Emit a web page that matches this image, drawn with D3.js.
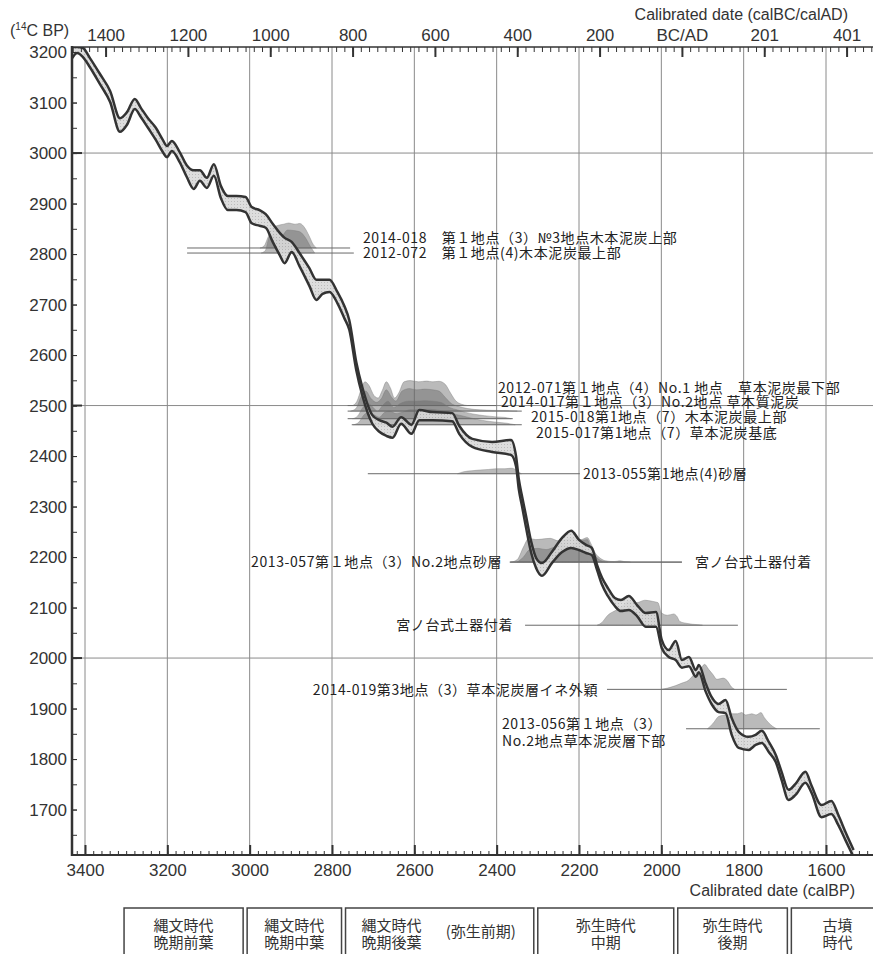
<!DOCTYPE html>
<html>
<head>
<meta charset="utf-8">
<script src="https://cdn.jsdelivr.net/npm/d3@7/dist/d3.min.js"></script>
<style>
body{margin:0;background:#fff}
</style>
</head>
<body>
<svg id="chart" width="873" height="954"></svg>
<script>
// calibration curve, 1 sigma band (calBP vs 14C BP)
var calBP = [3431,3419,3405,3388,3364,3339,3315,3298,3279,3264,3247,3228,3211,3201,3189,3170,3153,3136,3121,3104,3087,3070,3053,3032,3010,2995,2976,2961,2944,2927,2915,2898,2879,2855,2838,2823,2806,2787,2770,2758,2741,2726,2702,2685,2668,2653,2632,2607,2588,2556,2508,2491,2459,2411,2365,2353,2346,2338,2329,2316,2304,2290,2266,2241,2219,2200,2183,2169,2156,2144,2130,2113,2098,2079,2059,2038,2013,1999,1982,1965,1950,1933,1916,1909,1892,1878,1861,1844,1829,1812,1788,1771,1756,1739,1722,1708,1691,1674,1650,1635,1611,1587,1570,1553,1533]
var c14Upper = [3210,3210,3208,3188,3157,3123,3069,3081,3107,3089,3069,3050,3026,3014,3024,3002,2976,2966,2966,2951,2978,2935,2915,2915,2913,2893,2887,2879,2860,2842,2832,2824,2802,2772,2749,2749,2749,2725,2697,2669,2586,2535,2481,2471,2466,2458,2477,2462,2491,2487,2485,2460,2434,2428,2432,2400,2353,2319,2283,2230,2198,2188,2210,2238,2252,2234,2224,2218,2184,2159,2139,2119,2115,2123,2105,2089,2091,2036,2016,2034,1996,2002,1976,1986,1949,1923,1909,1917,1881,1854,1844,1848,1856,1834,1808,1775,1739,1751,1775,1747,1709,1717,1689,1656,1620]
var c14Lower = [3188,3198,3190,3170,3137,3101,3042,3056,3087,3071,3050,3026,3002,2992,3004,2982,2953,2929,2945,2931,2955,2911,2887,2887,2883,2861,2856,2852,2824,2798,2782,2804,2776,2737,2709,2721,2725,2703,2673,2650,2570,2519,2464,2448,2440,2436,2464,2444,2471,2471,2469,2444,2418,2408,2402,2380,2333,2299,2260,2208,2178,2163,2188,2210,2218,2214,2208,2204,2174,2145,2123,2103,2093,2095,2083,2062,2062,2020,2002,1996,1981,1984,1963,1972,1933,1909,1893,1891,1848,1822,1818,1828,1832,1814,1794,1759,1719,1729,1753,1733,1685,1691,1669,1640,1606]

// samples: label, 14C age, extent of the horizontal line (calBP)
var sampleNames = [
  "2014-018　第１地点（3）№3地点木本泥炭上部",
  "2012-072　第１地点(4)木本泥炭最上部",
  "2012-071第１地点（4）No.1 地点　草本泥炭最下部",
  "2014-017第１地点（3）No.2地点 草本質泥炭",
  "2015-018第1地点（7）木本泥炭最上部",
  "2015-017第1地点（7）草本泥炭基底",
  "2013-055第1地点(4)砂層",
  "2013-057第１地点（3）No.2地点砂層",
  "宮ノ台式土器付着",
  "宮ノ台式土器付着",
  "2014-019第3地点（3）草本泥炭層イネ外穎",
  "2013-056第１地点（3）\nNo.2地点草本泥炭層下部"
]
var sampleAges = [2812,2802,2500,2489,2474,2462,2365,2190,2190,2065,1938,1860]
var lineStart = [3152,3152,2762,2762,2762,2752,2713,2368,2368,2331,2132,1940]
var lineEnd = [2756,2747,2400,2339,2361,2339,2198,1950,1950,1814,1695,1615]

// calibrated probability [calBP, relative probability]
var prob2014_018 = [[2975,0],[2965,0.08],[2955,0.45],[2945,0.8],[2932,0.9],[2918,0.95],[2905,1],[2890,0.95],[2878,0.98],[2866,0.8],[2856,0.5],[2846,0.15],[2838,0]]
var prob2012_072 = [[2972,0],[2962,0.1],[2952,0.65],[2942,0.72],[2930,0.55],[2920,0.7],[2908,0.92],[2893,0.9],[2878,0.85],[2864,0.6],[2852,0.25],[2842,0]]
var prob2012_071 = [[2750,0],[2740,0.15],[2728,0.7],[2720,0.95],[2710,0.8],[2698,0.4],[2688,0.3],[2678,0.6],[2668,0.95],[2658,0.7],[2648,0.3],[2638,0.5],[2625,0.95],[2610,1],[2590,0.95],[2570,0.98],[2555,0.95],[2540,0.97],[2525,0.85],[2512,0.5],[2500,0.2],[2485,0.05],[2470,0]]
var prob2014_017 = [[2755,0],[2742,0.1],[2730,0.55],[2718,0.8],[2705,0.5],[2692,0.35],[2680,0.5],[2668,0.85],[2655,0.55],[2645,0.4],[2630,0.8],[2612,0.9],[2595,0.85],[2575,0.88],[2555,0.85],[2540,0.8],[2525,0.55],[2510,0.3],[2495,0.2],[2470,0.1],[2440,0.05],[2410,0.03],[2380,0.02],[2350,0]]
var prob2015_018 = [[2750,0],[2738,0.1],[2725,0.45],[2712,0.6],[2700,0.45],[2690,0.3],[2676,0.55],[2664,0.7],[2650,0.45],[2635,0.6],[2615,0.7],[2595,0.7],[2575,0.72],[2555,0.7],[2535,0.65],[2515,0.45],[2495,0.35],[2475,0.25],[2455,0.18],[2430,0.12],[2400,0.07],[2380,0.05],[2365,0]]
var prob2015_017 = [[2748,0],[2735,0.1],[2722,0.4],[2710,0.5],[2698,0.4],[2685,0.3],[2672,0.5],[2660,0.55],[2645,0.45],[2630,0.5],[2610,0.6],[2590,0.6],[2570,0.62],[2550,0.6],[2530,0.55],[2510,0.45],[2490,0.38],[2470,0.3],[2450,0.22],[2425,0.15],[2400,0.1],[2375,0.06],[2355,0]]
var prob2013_055 = [[2495,0],[2480,0.08],[2460,0.12],[2440,0.15],[2420,0.17],[2400,0.2],[2380,0.2],[2365,0.22],[2352,0.15],[2345,0.05],[2340,0]]
var prob2013_057 = [[2365,0],[2350,0.1],[2335,0.6],[2322,0.95],[2305,0.9],[2290,0.92],[2270,0.95],[2250,0.85],[2232,0.9],[2215,0.95],[2195,0.9],[2180,0.98],[2170,0.7],[2160,0.35],[2148,0.15],[2135,0.05],[2115,0.02],[2100,0.05],[2090,0.02],[2075,0]]
var probMiyanodai1 = [[2350,0],[2335,0.2],[2320,0.5],[2300,0.55],[2280,0.5],[2260,0.6],[2240,0.7],[2225,0.6],[2210,0.75],[2195,0.85],[2180,0.9],[2170,0.5],[2158,0.2],[2145,0.05],[2130,0]]
var probMiyanodai2 = [[2156,0],[2145,0.1],[2130,0.4],[2110,0.6],[2095,0.75],[2080,0.95],[2060,0.9],[2040,1],[2020,0.95],[2008,0.9],[2000,0.5],[1985,0.4],[1970,0.45],[1962,0.35],[1955,0.15],[1940,0.08],[1925,0.04],[1910,0.02],[1900,0]]
var prob2014_019 = [[2000,0],[1985,0.05],[1965,0.15],[1950,0.25],[1935,0.35],[1920,0.6],[1905,0.8],[1895,1],[1885,0.8],[1875,0.6],[1865,0.4],[1850,0.45],[1840,0.35],[1830,0.1],[1822,0]]
var prob2013_056 = [[1888,0],[1875,0.2],[1860,0.5],[1845,0.55],[1830,0.6],[1815,0.6],[1805,0.65],[1795,0.55],[1780,0.6],[1770,0.55],[1758,0.65],[1750,0.45],[1740,0.25],[1730,0.1],[1720,0]]
var sampleProbs = [prob2014_018,prob2012_072,prob2012_071,prob2014_017,prob2015_018,prob2015_017,prob2013_055,prob2013_057,probMiyanodai1,probMiyanodai2,prob2014_019,prob2013_056]

// axes
var bpTicks = [3400,3200,3000,2800,2600,2400,2200,2000,1800,1600]
var bcadTicks = [3350,3150,2950,2750,2550,2350,2150,1950,1750,1550]
var bcadLabels = ["1400","1200","1000","800","600","400","200","BC/AD","201","401"]
var c14Ticks = [1700,1800,1900,2000,2100,2200,2300,2400,2500,2600,2700,2800,2900,3000,3100,3200]
var c14Grid = [3000,2500,2000]

// periods (calBP)
var periodLine1 = ["縄文時代","縄文時代","縄文時代","弥生時代","弥生時代","古墳"]
var periodLine2 = ["晩期前葉","晩期中葉","晩期後葉","中期","後期","時代"]
var periodStart = [3310,3011,2772,2305,1965,1689]
var periodEnd = [3011,2772,2305,1965,1689,1455]

// label placement (annotation layout)
var labelX = [363,363,498,501,531,536,583,502,695,513,598,502]
var labelY = [238,253,388,402,417,433,474,562,562,625,690,724]
var labelAnchor = ["start","start","start","start","start","start","start","end","start","end","end","start"]

var jpFont = "'Noto Sans CJK JP','Noto Sans CJK SC',sans-serif"
var latFont = "'Liberation Sans',Arial,sans-serif"

drawChart()

function drawChart(){
    var left = 72, right = 873, top = 47, bottom = 855
    var x = d3.scaleLinear().domain([3400,1600]).range([85,826])
    var y = d3.scaleLinear().domain([3210,1610]).range([top,bottom])
    var h = d3.scaleLinear().domain([0,1]).range([0,25])

    var svg = d3.select("#chart")
    var defs = svg.append("defs")
    defs.append("clipPath").attr("id","plotClip")
        .append("rect").attr("x",left).attr("y",top).attr("width",right-left).attr("height",bottom-top)
    // printed screen tone for the curve band
    var tone = defs.append("pattern").attr("id","tone")
        .attr("width",3).attr("height",3).attr("patternUnits","userSpaceOnUse")
    tone.append("rect").attr("width",3).attr("height",3).attr("fill","#d9d9d9")
    tone.append("rect").attr("width",1).attr("height",1).attr("fill","#b4b4b4")

    // grid
    svg.selectAll(".vgrid").data(bpTicks).enter().append("line")
        .attr("x1",function(d){return x(d)}).attr("x2",function(d){return x(d)})
        .attr("y1",top).attr("y2",bottom)
        .attr("stroke","#8a8a8a").attr("stroke-width",1)
    svg.selectAll(".hgrid").data(c14Grid).enter().append("line")
        .attr("x1",left).attr("x2",right)
        .attr("y1",function(d){return y(d)}).attr("y2",function(d){return y(d)})
        .attr("stroke","#8a8a8a").attr("stroke-width",1)

    var plot = svg.append("g").attr("clip-path","url(#plotClip)")

    // sample baselines and calibrated distributions
    plot.selectAll(".baseline").data(sampleAges).enter().append("line")
        .attr("x1",function(d,i){return x(lineStart[i])})
        .attr("x2",function(d,i){return x(lineEnd[i])})
        .attr("y1",function(d){return y(d)}).attr("y2",function(d){return y(d)})
        .attr("stroke","#6a6a6a").attr("stroke-width",1)

    plot.selectAll(".dist").data(sampleProbs).enter().append("path")
        .attr("d",function(p,i){
            var base = y(sampleAges[i])
            return d3.area()
                .x(function(d){return x(d[0])})
                .y0(base)
                .y1(function(d){return base-h(d[1])})
                .curve(d3.curveMonotoneX)(p)
        })
        .attr("fill","#666").attr("fill-opacity",0.45)
        .attr("stroke","#777").attr("stroke-width",0.4)

    // calibration curve band
    var idx = d3.range(calBP.length)
    var band = d3.area()
        .x(function(i){return x(calBP[i])})
        .y0(function(i){return y(c14Lower[i])})
        .y1(function(i){return y(c14Upper[i])})
        .curve(d3.curveMonotoneX)
    plot.append("path").attr("d",band(idx))
        .attr("fill","url(#tone)").attr("fill-opacity",0.9)
    var upLine = d3.line().x(function(i){return x(calBP[i])}).y(function(i){return y(c14Upper[i])}).curve(d3.curveMonotoneX)
    var loLine = d3.line().x(function(i){return x(calBP[i])}).y(function(i){return y(c14Lower[i])}).curve(d3.curveMonotoneX)
    plot.append("path").attr("d",upLine(idx)).attr("fill","none").attr("stroke","#333").attr("stroke-width",2.5).attr("stroke-linejoin","round")
    plot.append("path").attr("d",loLine(idx)).attr("fill","none").attr("stroke","#333").attr("stroke-width",2.5).attr("stroke-linejoin","round")

    // bottom axis (calBP)
    var minorBP = d3.range(3420,1480,-20)
    svg.append("g").attr("transform","translate(0,"+bottom+")")
        .call(d3.axisBottom(x).tickValues(minorBP).tickSize(-4).tickFormat(""))
        .call(function(g){g.select(".domain").remove()})
        .selectAll("line").attr("stroke","#333")
    var bAxis = svg.append("g").attr("transform","translate(0,"+bottom+")")
        .call(d3.axisBottom(x).tickValues(bpTicks).tickSize(-10).tickPadding(9).tickFormat(d3.format("d")))
    bAxis.select(".domain").remove()
    bAxis.selectAll("line").attr("stroke","#333").attr("stroke-width",2)
    bAxis.selectAll("text").attr("font-size",17).attr("font-family",latFont).attr("fill","#333")

    // top axis (calBC/calAD)
    var minorTop = d3.range(3430,1480,-20)
    svg.append("g").attr("transform","translate(0,"+top+")")
        .call(d3.axisTop(x).tickValues(minorTop).tickSize(-5).tickFormat(""))
        .call(function(g){g.select(".domain").remove()})
        .selectAll("line").attr("stroke","#333")
    var tAxis = svg.append("g").attr("transform","translate(0,"+top+")")
        .call(d3.axisTop(x).tickValues(bcadTicks).tickSize(-10).tickPadding(6)
            .tickFormat(function(d,i){return bcadLabels[i]}))
    tAxis.select(".domain").remove()
    tAxis.selectAll("line").attr("stroke","#333").attr("stroke-width",2)
    tAxis.selectAll("text").attr("font-size",17).attr("font-family",latFont).attr("fill","#333")

    // left axis (14C BP)
    var minorC = d3.range(1650,3201,50)
    svg.append("g").attr("transform","translate("+left+",0)")
        .call(d3.axisLeft(y).tickValues(minorC).tickSize(-5).tickFormat(""))
        .call(function(g){g.select(".domain").remove()})
        .selectAll("line").attr("stroke","#333")
    var lAxis = svg.append("g").attr("transform","translate("+left+",0)")
        .call(d3.axisLeft(y).tickValues(c14Ticks).tickSize(-5).tickPadding(5).tickFormat(d3.format("d")))
    lAxis.select(".domain").remove()
    lAxis.selectAll("line").attr("stroke","#333")
    lAxis.selectAll("text").attr("font-size",17).attr("font-family",latFont).attr("fill","#333")
    svg.selectAll(".bigTick").data(c14Grid).enter().append("line")
        .attr("x1",left).attr("x2",left+10)
        .attr("y1",function(d){return y(d)}).attr("y2",function(d){return y(d)})
        .attr("stroke","#333").attr("stroke-width",2)

    // frame
    svg.append("line").attr("x1",left).attr("x2",right).attr("y1",top).attr("y2",top).attr("stroke","#333").attr("stroke-width",1.5)
    svg.append("line").attr("x1",left).attr("x2",right).attr("y1",bottom).attr("y2",bottom).attr("stroke","#333").attr("stroke-width",2)
    svg.append("line").attr("x1",left).attr("x2",left).attr("y1",top-1).attr("y2",bottom+1).attr("stroke","#333").attr("stroke-width",2.5)

    // axis titles
    var yt = svg.append("text").attr("x",10).attr("y",36)
        .attr("font-size",16).attr("font-family",latFont).attr("fill","#333")
    yt.append("tspan").text("(")
    yt.append("tspan").text("14").attr("font-size",10).attr("dy",-6)
    yt.append("tspan").text("C BP)").attr("dy",6)
    svg.append("text").text("Calibrated date (calBC/calAD)")
        .attr("x",848).attr("y",20).attr("text-anchor","end")
        .attr("font-size",16).attr("font-family",latFont).attr("fill","#333")
    svg.append("text").text("Calibrated date (calBP)")
        .attr("x",855).attr("y",896).attr("text-anchor","end")
        .attr("font-size",16).attr("font-family",latFont).attr("fill","#333")

    // sample labels
    sampleNames.forEach(function(name,i){
        var t = svg.append("text")
            .attr("x",labelX[i]).attr("y",labelY[i])
            .attr("text-anchor",labelAnchor[i])
            .attr("font-size",14).attr("letter-spacing",0.6)
            .attr("font-family",jpFont).attr("fill","#222")
        name.split("\n").forEach(function(part,j){
            t.append("tspan").attr("x",labelX[i]).attr("dy",j==0?"0.35em":"1.25em").text(part)
        })
    })

    // period boxes
    var boxTop = 908
    periodLine1.forEach(function(p,i){
        var x0 = x(periodStart[i])+2, x1 = x(periodEnd[i])-2
        svg.append("rect").attr("x",x0).attr("y",boxTop).attr("width",x1-x0).attr("height",60)
            .attr("fill","none").attr("stroke","#444").attr("stroke-width",1.5)
        var cx = (x0+x1)/2
        if(i==2){
            cx = x0+46
            svg.append("text").text("(弥生前期)").attr("x",x1-53).attr("y",932)
                .attr("dy","0.35em").attr("text-anchor","middle")
                .attr("font-size",15).attr("font-family",jpFont).attr("fill","#333")
        }
        svg.append("text").text(p).attr("x",cx).attr("y",926).attr("dy","0.35em")
            .attr("text-anchor","middle").attr("font-size",15).attr("font-family",jpFont).attr("fill","#333")
        svg.append("text").text(periodLine2[i]).attr("x",cx).attr("y",943).attr("dy","0.35em")
            .attr("text-anchor","middle").attr("font-size",15).attr("font-family",jpFont).attr("fill","#333")
    })
}
</script>
</body>
</html>
